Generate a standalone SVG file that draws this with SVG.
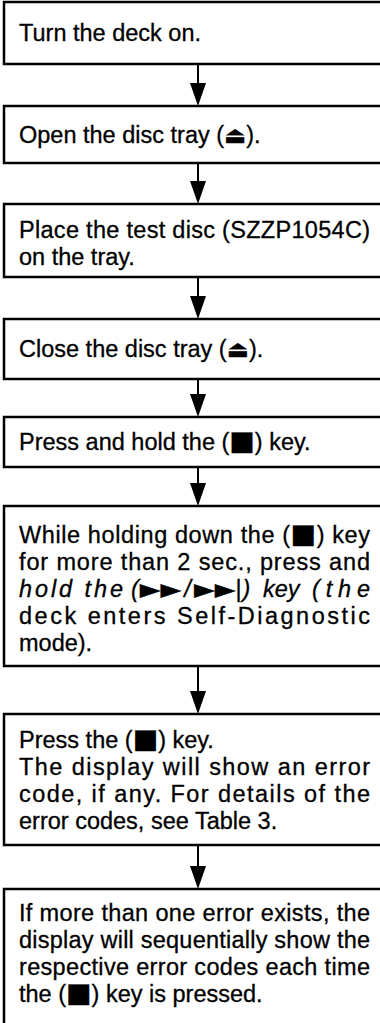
<svg xmlns="http://www.w3.org/2000/svg" width="380" height="1023" viewBox="0 0 380 1023">
<style>
.box{fill:#fff;stroke:#000;stroke-width:2.5}
.t{font-family:"Liberation Sans",Arial,sans-serif;font-size:23.5px;fill:#000;stroke:#000;stroke-width:0.3}
.sym{font-family:"DejaVu Sans","Liberation Sans",sans-serif}
.sq{font-family:"DejaVu Sans","Liberation Sans",sans-serif;font-size:27px}
.tri{font-family:"DejaVu Sans","Liberation Sans",sans-serif;font-size:27px;font-style:normal}
.c{stroke:#000;stroke-width:2;fill:none}
.ah{fill:#000}
</style>
<rect width="380" height="1023" fill="#fff"/>
<g id="connectors">
<line class="c" x1="198" y1="64" x2="198" y2="84"/>
<path class="ah" d="M190,83 L206,83 L198,106 Z"/>
<line class="c" x1="198" y1="163" x2="198" y2="182"/>
<path class="ah" d="M190,181 L206,181 L198,204 Z"/>
<line class="c" x1="198" y1="277" x2="198" y2="297"/>
<path class="ah" d="M190,296 L206,296 L198,319 Z"/>
<line class="c" x1="198" y1="379" x2="198" y2="395"/>
<path class="ah" d="M190,394 L206,394 L198,417 Z"/>
<line class="c" x1="198" y1="467" x2="198" y2="484"/>
<path class="ah" d="M190,483 L206,483 L198,506 Z"/>
<line class="c" x1="198" y1="666" x2="198" y2="692"/>
<path class="ah" d="M190,691 L206,691 L198,714 Z"/>
<line class="c" x1="198" y1="845" x2="198" y2="867"/>
<path class="ah" d="M190,866 L206,866 L198,889 Z"/>
</g>
<g id="n1">
<rect class="box" x="4" y="2" width="420" height="62"/>
<text class="t" x="19" y="41">Turn the deck on.</text>
</g>
<g id="n2">
<rect class="box" x="4" y="106" width="420" height="57"/>
<text class="t" x="19" y="143">Open the disc tray (<tspan class="sym">⏏</tspan>).</text>
</g>
<g id="n3">
<rect class="box" x="4" y="204" width="420" height="73"/>
<text class="t" x="19" y="238" textLength="351" lengthAdjust="spacing">Place the test disc (SZZP1054C)</text>
<text class="t" x="19" y="265">on the tray.</text>
</g>
<g id="n4">
<rect class="box" x="4" y="319" width="420" height="60"/>
<text class="t" x="19" y="357">Close the disc tray (<tspan class="sym">⏏</tspan>).</text>
</g>
<g id="n5">
<rect class="box" x="4" y="417" width="420" height="50"/>
<text class="t" x="19" y="450">Press and hold the (<tspan class="sq">■</tspan>) key.</text>
</g>
<g id="n6">
<rect class="box" x="4" y="506" width="420" height="160"/>
<text class="t" x="19" y="543" textLength="351" lengthAdjust="spacing">While holding down the (<tspan class="sq">■</tspan>) key</text>
<text class="t" x="19" y="570" textLength="351" lengthAdjust="spacing">for more than 2 sec., press and</text>
<text class="t" x="19" y="597" font-style="italic" textLength="104" lengthAdjust="spacing">hold the</text>
<text class="t" x="131" y="597" font-style="italic">(<tspan class="tri" dx="1" dy="1">►►</tspan><tspan dx="3" dy="-1">/</tspan><tspan class="tri" dx="3" dy="1">►►</tspan><tspan font-style="normal" dy="-1">|</tspan><tspan dx="1">)</tspan></text>
<text class="t" x="263" y="597" font-style="italic">key</text>
<text class="t" x="312" y="597" font-style="italic" textLength="58" lengthAdjust="spacing">(the</text>
<text class="t" x="19" y="624" textLength="351" lengthAdjust="spacing">deck enters Self-Diagnostic</text>
<text class="t" x="19" y="651">mode).</text>
</g>
<g id="n7">
<rect class="box" x="4" y="714" width="420" height="131"/>
<text class="t" x="19" y="748">Press the (<tspan class="sq">■</tspan>) key.</text>
<text class="t" x="19" y="775" textLength="351" lengthAdjust="spacing">The display will show an error</text>
<text class="t" x="19" y="802" textLength="351" lengthAdjust="spacing">code, if any.  For details of the</text>
<text class="t" x="19" y="829">error codes, see Table 3.</text>
</g>
<g id="n8">
<rect class="box" x="4" y="889" width="420" height="200"/>
<text class="t" x="19" y="921" textLength="351" lengthAdjust="spacing">If more than one error exists, the</text>
<text class="t" x="19" y="948" textLength="351" lengthAdjust="spacing">display will sequentially show the</text>
<text class="t" x="19" y="975" textLength="351" lengthAdjust="spacing">respective error codes each time</text>
<text class="t" x="19" y="1002">the (<tspan class="sq">■</tspan>) key is pressed.</text>
</g>
</svg>
